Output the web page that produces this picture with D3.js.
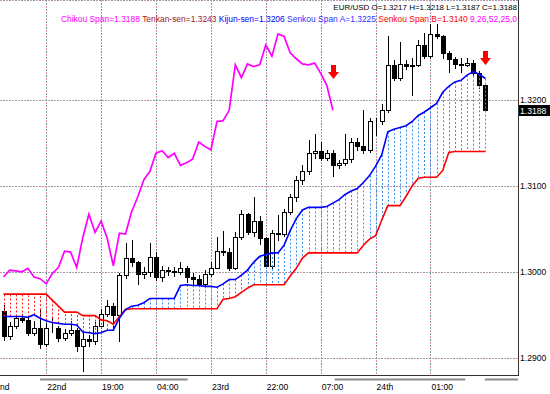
<!DOCTYPE html>
<html>
<head>
<meta charset="utf-8">
<script src="https://cdn.jsdelivr.net/npm/d3@7"></script>
<style>
  html, body { margin: 0; padding: 0; background: #fff; }
  svg { display: block; font-family: "Liberation Sans", Arial, sans-serif; }
</style>
</head>
<body>
<div id="chart"></div>
<script>
// hourly EUR/USD bars, oldest first
const opens = [1.2954,1.2925,1.2937,1.2946,1.2944,1.2929,1.2935,1.2916,1.2934,1.2935,
  1.2923,1.2929,1.2932,1.2914,1.2922,1.2919,1.2937,1.2951,1.2960,1.2950,
  1.2996,1.3016,1.3011,1.2998,1.3000,1.3017,1.2994,1.3002,1.3001,1.3000,
  1.3004,1.2994,1.2992,1.2986,1.2998,1.3005,1.3024,1.3023,1.3005,1.3040,
  1.3067,1.3046,1.3059,1.3039,1.3007,1.3045,1.3044,1.3070,1.3087,1.3107,
  1.3117,1.3138,1.3141,1.3133,1.3138,1.3124,1.3127,1.3131,1.3151,1.3146,
  1.3142,1.3175,1.3176,1.3188,1.3241,1.3226,1.3242,1.3239,1.3241,1.3264,
  1.3251,1.3277,1.3274,1.3255,1.3248,1.3242,1.3241,1.3243,1.3231,1.3217];
const highs = [1.2961,1.2941,1.2950,1.2951,1.2948,1.2943,1.2955,1.2940,1.2946,1.2937,
  1.2933,1.2943,1.2934,1.2932,1.2926,1.2941,1.2957,1.2967,1.2964,1.2999,
  1.3033,1.3037,1.3013,1.3006,1.3034,1.3023,1.3007,1.3006,1.3006,1.3011,
  1.3007,1.2999,1.2996,1.3002,1.3011,1.3041,1.3048,1.3028,1.3046,1.3072,
  1.3069,1.3087,1.3065,1.3041,1.3049,1.3066,1.3073,1.3090,1.3111,1.3124,
  1.3153,1.3160,1.3151,1.3142,1.3142,1.3130,1.3161,1.3156,1.3156,1.3188,
  1.3179,1.3179,1.3195,1.3275,1.3247,1.3267,1.3247,1.3249,1.3270,1.3278,
  1.3288,1.3288,1.3276,1.3257,1.3250,1.3249,1.3249,1.3246,1.3234,1.3218];
const lows = [1.2921,1.2922,1.2935,1.2941,1.2926,1.2927,1.2911,1.2914,1.2930,1.2919,
  1.2921,1.2927,1.2908,1.2885,1.2914,1.2916,1.2935,1.2948,1.2936,1.2920,
  1.2993,1.3007,1.2986,1.2993,1.2995,1.2990,1.2989,1.2996,1.2995,1.2998,
  1.2988,1.2984,1.2983,1.2983,1.2995,1.3004,1.3020,1.3002,1.3003,1.3038,
  1.3044,1.3042,1.3032,1.3004,1.3005,1.3037,1.3042,1.3067,1.3083,1.3102,
  1.3114,1.3132,1.3130,1.3130,1.3111,1.3121,1.3124,1.3128,1.3142,1.3138,
  1.3139,1.3159,1.3172,1.3186,1.3223,1.3223,1.3236,1.3206,1.3240,1.3249,
  1.3249,1.3272,1.3249,1.3233,1.3237,1.3233,1.3240,1.3228,1.3214,1.3187];
const closes = [1.2925,1.2937,1.2946,1.2944,1.2929,1.2935,1.2916,1.2934,1.2935,1.2923,
  1.2929,1.2932,1.2914,1.2922,1.2919,1.2937,1.2951,1.2960,1.2950,1.2996,
  1.3016,1.3011,1.2998,1.3000,1.3017,1.2994,1.3002,1.3001,1.3000,1.3004,
  1.2994,1.2992,1.2986,1.2998,1.3005,1.3024,1.3023,1.3005,1.3040,1.3067,
  1.3046,1.3059,1.3039,1.3007,1.3045,1.3044,1.3070,1.3087,1.3107,1.3117,
  1.3138,1.3141,1.3133,1.3138,1.3124,1.3127,1.3131,1.3151,1.3146,1.3142,
  1.3175,1.3176,1.3188,1.3241,1.3226,1.3242,1.3239,1.3241,1.3264,1.3251,
  1.3277,1.3274,1.3255,1.3248,1.3242,1.3241,1.3243,1.3231,1.3217,1.3188];

// chikou span, drawn from bar 0
const chikou = [1.2994,1.3002,1.3001,1.3000,1.3004,1.2994,1.2992,1.2986,1.2998,1.3005,
  1.3024,1.3023,1.3005,1.3040,1.3067,1.3046,1.3059,1.3039,1.3007,1.3045,
  1.3044,1.3070,1.3087,1.3107,1.3117,1.3138,1.3141,1.3133,1.3138,1.3124,
  1.3127,1.3131,1.3151,1.3146,1.3142,1.3175,1.3176,1.3188,1.3241,1.3226,
  1.3242,1.3239,1.3241,1.3264,1.3251,1.3277,1.3274,1.3255,1.3248,1.3242,
  1.3241,1.3243,1.3231,1.3217,1.3188];

const senkouA = [1.2948,1.2948,1.2948,1.2948,1.2947,1.2950,1.2946,1.2943,1.2941,1.2940,
  1.2939,1.2939,1.2938,1.2930,1.2929,1.2928,1.2929,1.2932,1.2932,1.2946,
  1.2956,1.2960,1.2961,1.2964,1.2969,1.2969,1.2969,1.2969,1.2969,1.2984,
  1.2985,1.2984,1.2984,1.2983,1.2983,1.2982,1.2986,1.2991,1.2991,1.2996,
  1.3002,1.3011,1.3018,1.3020,1.3022,1.3022,1.3031,1.3048,1.3062,1.3072,
  1.3075,1.3075,1.3075,1.3076,1.3080,1.3084,1.3090,1.3094,1.3097,1.3104,
  1.3112,1.3123,1.3136,1.3163,1.3166,1.3168,1.3170,1.3175,1.3182,1.3186,
  1.3191,1.3196,1.3209,1.3216,1.3221,1.3223,1.3229,1.3233,1.3230,1.3225];
const senkouB = [1.2974,1.2974,1.2974,1.2974,1.2974,1.2974,1.2974,1.2974,1.2967,1.2960,
  1.2953,1.2953,1.2953,1.2949,1.2949,1.2949,1.2944,1.2943,1.2939,1.2948,
  1.2956,1.2957,1.2957,1.2957,1.2957,1.2957,1.2957,1.2957,1.2957,1.2957,
  1.2957,1.2957,1.2957,1.2957,1.2957,1.2957,1.2968,1.2969,1.2971,1.2976,
  1.2981,1.2985,1.2985,1.2985,1.2985,1.2985,1.2985,1.2995,1.3004,1.3016,
  1.3022,1.3022,1.3022,1.3022,1.3022,1.3022,1.3022,1.3022,1.3022,1.3031,
  1.3038,1.3042,1.3060,1.3077,1.3077,1.3077,1.3088,1.3100,1.3109,1.3110,
  1.3110,1.3110,1.3118,1.3139,1.3140,1.3140,1.3140,1.3140,1.3140,1.3140];

const tenkanLast = 1.3243;
const kijunLast = 1.3206;
const params = '9,26,52,25,0';

const priceTicks = [1.29, 1.30, 1.31, 1.32];
const timeTickBars = [-2, 7, 16, 25, 34, 43, 52, 61, 70];
const timeLabels = ['nd', '22nd', '19:00', '04:00', '23rd', '22:00', '07:00', '24th', '01:00'];
const sessionBars = [[6, 30.2], [54.3, 75.7], [78.9, 84.4]];

// sell signals: bar and arrow tip price
const arrows = [{bar: 54, price: 1.32245}, {bar: 79, price: 1.3241}];

const width = 550, height = 394;
const plotRight = 518, plotBottom = 375;

const svg = d3.select('#chart')
    .append('svg')
    .attr('width', width)
    .attr('height', height);

const x = d3.scaleLinear().domain([0, 79]).range([3.5, 485.4]);
const y = d3.scaleLinear().domain([1.29, 1.32]).range([357.7, 100]);
const px = v => Math.round(v) + 0.5;

svg.append('clipPath').attr('id', 'plot-clip')
    .append('rect').attr('width', plotRight).attr('height', plotBottom);

// dotted grid, two-tone like the original
function gridLine(g, x1, y1, x2, y2) {
    g.append('line').attr('x1', x1).attr('y1', y1).attr('x2', x2).attr('y2', y2)
        .attr('stroke', '#d98cb0').attr('stroke-dasharray', '2,4');
    g.append('line').attr('x1', x1).attr('y1', y1).attr('x2', x2).attr('y2', y2)
        .attr('stroke', '#6fa0a0').attr('stroke-dasharray', '2,4').attr('stroke-dashoffset', -3);
}
const grid = svg.append('g');
priceTicks.forEach(p => gridLine(grid, 0, px(y(p)), plotRight, px(y(p))));
timeTickBars.filter(b => b >= 0).forEach(b => gridLine(grid, px(x(b)), 0, px(x(b)), plotBottom));
gridLine(grid, 0, 0.5, plotRight, 0.5);

const plot = svg.append('g').attr('clip-path', 'url(#plot-clip)');

// candles
const bars = d3.range(closes.length);
const candles = plot.append('g');
candles.selectAll('line')
    .data(bars)
    .join('line')
    .attr('x1', i => px(x(i)))
    .attr('x2', i => px(x(i)))
    .attr('y1', i => Math.round(y(highs[i])))
    .attr('y2', i => Math.round(y(lows[i])) + 1)
    .attr('stroke', '#000');
candles.selectAll('rect')
    .data(bars)
    .join('rect')
    .attr('x', i => Math.round(x(i)) - 1.5)
    .attr('width', 4)
    .attr('y', i => px(y(Math.max(opens[i], closes[i]))))
    .attr('height', i => Math.max(0, Math.round(y(Math.min(opens[i], closes[i]))) - Math.round(y(Math.max(opens[i], closes[i])))))
    .attr('fill', i => closes[i] < opens[i] ? '#000' : '#fff')
    .attr('stroke', '#000');

// cloud as dotted histogram
plot.append('g').selectAll('line')
    .data(bars)
    .join('line')
    .attr('x1', i => px(x(i)))
    .attr('x2', i => px(x(i)))
    .attr('y1', i => y(senkouA[i]))
    .attr('y2', i => y(senkouB[i]))
    .attr('stroke', i => senkouA[i] >= senkouB[i] ? '#3d8ff5' : '#ff2020')
    .attr('stroke-dasharray', '2,2');

const line = d3.line().x((d, i) => x(i)).y(d => y(d));
plot.append('path').datum(senkouB)
    .attr('d', line).attr('fill', 'none').attr('stroke', '#ff0000').attr('stroke-width', 1.6);
plot.append('path').datum(senkouA)
    .attr('d', line).attr('fill', 'none').attr('stroke', '#0000ff').attr('stroke-width', 1.6);
plot.append('path').datum(chikou)
    .attr('d', line).attr('fill', 'none').attr('stroke', '#ff00ff').attr('stroke-width', 1.7);

// red down arrows
plot.selectAll('path.arrow')
    .data(arrows)
    .join('path')
    .attr('class', 'arrow')
    .attr('fill', '#ff0000')
    .attr('d', d => {
        const cx = Math.round(x(d.bar)) + 0.5, ty = Math.round(y(d.price));
        return `M${cx - 2.5},${ty - 14}H${cx + 2.5}V${ty - 7}H${cx + 5.5}L${cx},${ty}L${cx - 5.5},${ty - 7}H${cx - 2.5}Z`;
    });

// frame
svg.append('line').attr('x1', plotRight + 0.5).attr('x2', plotRight + 0.5)
    .attr('y1', 0).attr('y2', plotBottom + 1).attr('stroke', '#333');
svg.append('line').attr('x1', 0).attr('x2', plotRight + 1)
    .attr('y1', plotBottom + 0.5).attr('y2', plotBottom + 0.5).attr('stroke', '#333');

// price axis
const axisFont = 8.6;
svg.append('g').selectAll('text')
    .data(priceTicks)
    .join('text')
    .attr('x', plotRight + 2)
    .attr('y', p => y(p))
    .attr('dy', '0.35em')
    .attr('font-size', axisFont)
    .attr('fill', '#000')
    .text(p => p.toFixed(4));

const lastClose = closes[closes.length - 1];
svg.append('rect')
    .attr('x', plotRight + 1).attr('y', Math.round(y(lastClose)) - 5)
    .attr('width', width - plotRight - 1).attr('height', 11)
    .attr('fill', '#000');
svg.append('text')
    .attr('x', plotRight + 2).attr('y', y(lastClose) + 0.5)
    .attr('dy', '0.35em')
    .attr('font-size', axisFont)
    .attr('fill', '#fff')
    .text(lastClose.toFixed(4));

// time axis
svg.append('g').selectAll('line')
    .data(sessionBars)
    .join('line')
    .attr('x1', d => x(d[0])).attr('x2', d => Math.min(plotRight, x(d[1])))
    .attr('y1', 379.5).attr('y2', 379.5)
    .attr('stroke', '#8c8c8c').attr('stroke-width', 2);
svg.append('g').selectAll('text')
    .data(timeTickBars)
    .join('text')
    .attr('x', b => Math.max(0, x(b) + 1))
    .attr('y', 390)
    .attr('font-size', axisFont)
    .attr('fill', '#000')
    .text((b, i) => timeLabels[i]);

// header
const last = closes.length - 1;
svg.append('text')
    .attr('x', 517).attr('y', 10)
    .attr('text-anchor', 'end')
    .attr('font-size', 8)
    .attr('fill', '#000')
    .text(`EUR/USD O=${opens[last].toFixed(4)} H=${highs[last].toFixed(4)} L=${lows[last].toFixed(4)} C=${closes[last].toFixed(4)}`);

const legend = [
    {text: `Chikou Span=${chikou[chikou.length - 1].toFixed(4)}`, color: '#ff00ff'},
    {text: `Tenkan-sen=${tenkanLast.toFixed(4)}`, color: '#9b1b2b'},
    {text: `Kijun-sen=${kijunLast.toFixed(4)}`, color: '#0000ff'},
    {text: `Senkou Span A=${senkouA[last].toFixed(4)}`, color: '#3030ff'},
    {text: `Senkou Span B=${senkouB[last].toFixed(4)}`, color: '#ff0000'},
    {text: params, color: '#ff00ff'}
];
svg.append('text')
    .attr('x', 517).attr('y', 22)
    .attr('text-anchor', 'end')
    .attr('font-size', 8.45)
    .selectAll('tspan')
    .data(legend)
    .join('tspan')
    .attr('fill', d => d.color)
    .text((d, i) => (i ? ' ' : '') + d.text);
</script>
</body>
</html>
